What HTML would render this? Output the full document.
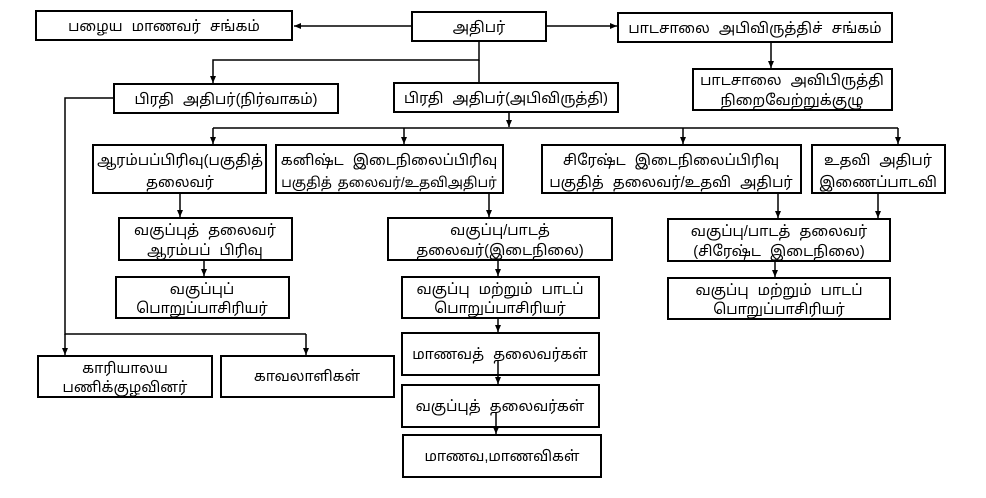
<!DOCTYPE html>
<html><head><meta charset="utf-8"><style>
html,body{margin:0;padding:0;background:#fff;}
svg{display:block;}
text{font-family:"Liberation Sans","Noto Sans Tamil","Lohit Tamil",sans-serif;font-size:14.5px;fill:#000;text-anchor:middle;word-spacing:5px;}
text.t{word-spacing:2px;font-size:13.5px;}
rect{fill:#fff;stroke:#000;stroke-width:2;}
line,polyline{stroke:#000;stroke-width:1.5;fill:none;}
</style></head><body>
<svg width="986" height="498" viewBox="0 0 986 498" xmlns="http://www.w3.org/2000/svg">
<defs><marker id="a" markerWidth="8" markerHeight="8" refX="7" refY="4" orient="auto" markerUnits="userSpaceOnUse"><path d="M0,1 L7,4 L0,7 z" fill="#000"/></marker></defs>
<line x1="412" y1="26" x2="294" y2="26" marker-end="url(#a)"/>
<line x1="546" y1="26" x2="617" y2="26" marker-end="url(#a)"/>
<line x1="771" y1="42" x2="771" y2="68" marker-end="url(#a)"/>
<polyline points="479,41 479,60 213,60 213,83" marker-end="url(#a)"/>
<line x1="479" y1="60" x2="479" y2="83"/>
<line x1="509" y1="112" x2="509" y2="127" marker-end="url(#a)"/>
<line x1="213" y1="128" x2="898" y2="128"/>
<line x1="213" y1="128" x2="213" y2="144" marker-end="url(#a)"/>
<line x1="404" y1="128" x2="404" y2="144" marker-end="url(#a)"/>
<line x1="683" y1="128" x2="683" y2="144" marker-end="url(#a)"/>
<line x1="898" y1="128" x2="898" y2="144" marker-end="url(#a)"/>
<line x1="180" y1="193" x2="180" y2="217" marker-end="url(#a)"/>
<line x1="489" y1="193" x2="489" y2="217" marker-end="url(#a)"/>
<line x1="778" y1="193" x2="778" y2="218" marker-end="url(#a)"/>
<line x1="878" y1="193" x2="878" y2="218" marker-end="url(#a)"/>
<line x1="204" y1="260" x2="204" y2="276" marker-end="url(#a)"/>
<line x1="775" y1="261" x2="775" y2="277" marker-end="url(#a)"/>
<polyline points="114,98 65,98 65,334 306,334"/>
<line x1="65" y1="334" x2="65" y2="355" marker-end="url(#a)"/>
<line x1="306" y1="334" x2="306" y2="355" marker-end="url(#a)"/>
<rect x="36" y="11" width="256" height="29"/>
<rect x="412" y="12" width="134" height="29"/>
<rect x="618" y="13" width="274" height="29"/>
<rect x="693" y="69" width="199" height="41"/>
<rect x="114" y="84" width="224" height="29"/>
<rect x="394" y="83" width="224" height="29"/>
<rect x="93" y="145" width="173" height="48"/>
<rect x="276" y="145" width="227" height="48"/>
<rect x="542" y="145" width="259" height="48"/>
<rect x="812" y="145" width="133" height="48"/>
<rect x="119" y="218" width="173" height="42"/>
<rect x="388" y="218" width="224" height="42"/>
<rect x="668" y="219" width="222" height="42"/>
<rect x="116" y="277" width="173" height="41"/>
<rect x="668" y="278" width="222" height="41"/>
<rect x="402" y="277" width="197" height="41"/>
<line x1="498" y1="260" x2="498" y2="276" marker-end="url(#a)"/>
<rect x="402" y="333" width="197" height="42"/>
<rect x="402" y="385" width="197" height="42"/>
<rect x="403" y="435" width="198" height="42"/>
<line x1="498" y1="318" x2="498" y2="332" marker-end="url(#a)"/>
<line x1="498" y1="360" x2="498" y2="384" marker-end="url(#a)"/>
<line x1="496" y1="412" x2="496" y2="434" marker-end="url(#a)"/>
<rect x="38" y="356" width="174" height="41"/>
<rect x="221" y="356" width="173" height="41"/>
<text x="164" y="31">பழைய மாணவர் சங்கம்</text>
<text x="479" y="32">அதிபர்</text>
<text x="755" y="33">பாடசாலை அபிவிருத்திச் சங்கம்</text>
<text x="792" y="85">பாடசாலை அவிபிருத்தி</text>
<text x="792" y="105">நிறைவேற்றுக்குழு</text>
<text x="226" y="104">பிரதி அதிபர்(நிர்வாகம்)</text>
<text x="506" y="103">பிரதி அதிபர்(அபிவிருத்தி)</text>
<text x="180" y="165">ஆரம்பப்பிரிவு(பகுதித்</text>
<text x="180" y="187">தலைவர்</text>
<text x="389" y="165">கனிஷ்ட இடைநிலைப்பிரிவு</text>
<text class="t" x="389" y="187">பகுதித் தலைவர்/உதவிஅதிபர்</text>
<text x="671" y="165">சிரேஷ்ட இடைநிலைப்பிரிவு</text>
<text x="671" y="187">பகுதித் தலைவர்/உதவி அதிபர்</text>
<text x="878" y="165">உதவி அதிபர்</text>
<text x="878" y="187">இணைப்பாடவி</text>
<text x="205" y="235">வகுப்புத் தலைவர்</text>
<text x="205" y="255">ஆரம்பப் பிரிவு</text>
<text x="500" y="235">வகுப்பு/பாடத்</text>
<text x="500" y="255">தலைவர்(இடைநிலை)</text>
<text x="779" y="236">வகுப்பு/பாடத் தலைவர்</text>
<text x="779" y="256">(சிரேஷ்ட இடைநிலை)</text>
<text x="202" y="294">வகுப்புப்</text>
<text x="202" y="313">பொறுப்பாசிரியர்</text>
<text x="500" y="294">வகுப்பு மற்றும் பாடப்</text>
<text x="500" y="313">பொறுப்பாசிரியர்</text>
<text x="779" y="295">வகுப்பு மற்றும் பாடப்</text>
<text x="779" y="314">பொறுப்பாசிரியர்</text>
<text x="500" y="359">மாணவத் தலைவர்கள்</text>
<text x="500" y="411">வகுப்புத் தலைவர்கள்</text>
<text x="502" y="461">மாணவ,மாணவிகள்</text>
<text x="125" y="373">காரியாலய</text>
<text x="125" y="392">பணிக்குழவினர்</text>
<text x="307" y="381">காவலாளிகள்</text>
</svg>
</body></html>
